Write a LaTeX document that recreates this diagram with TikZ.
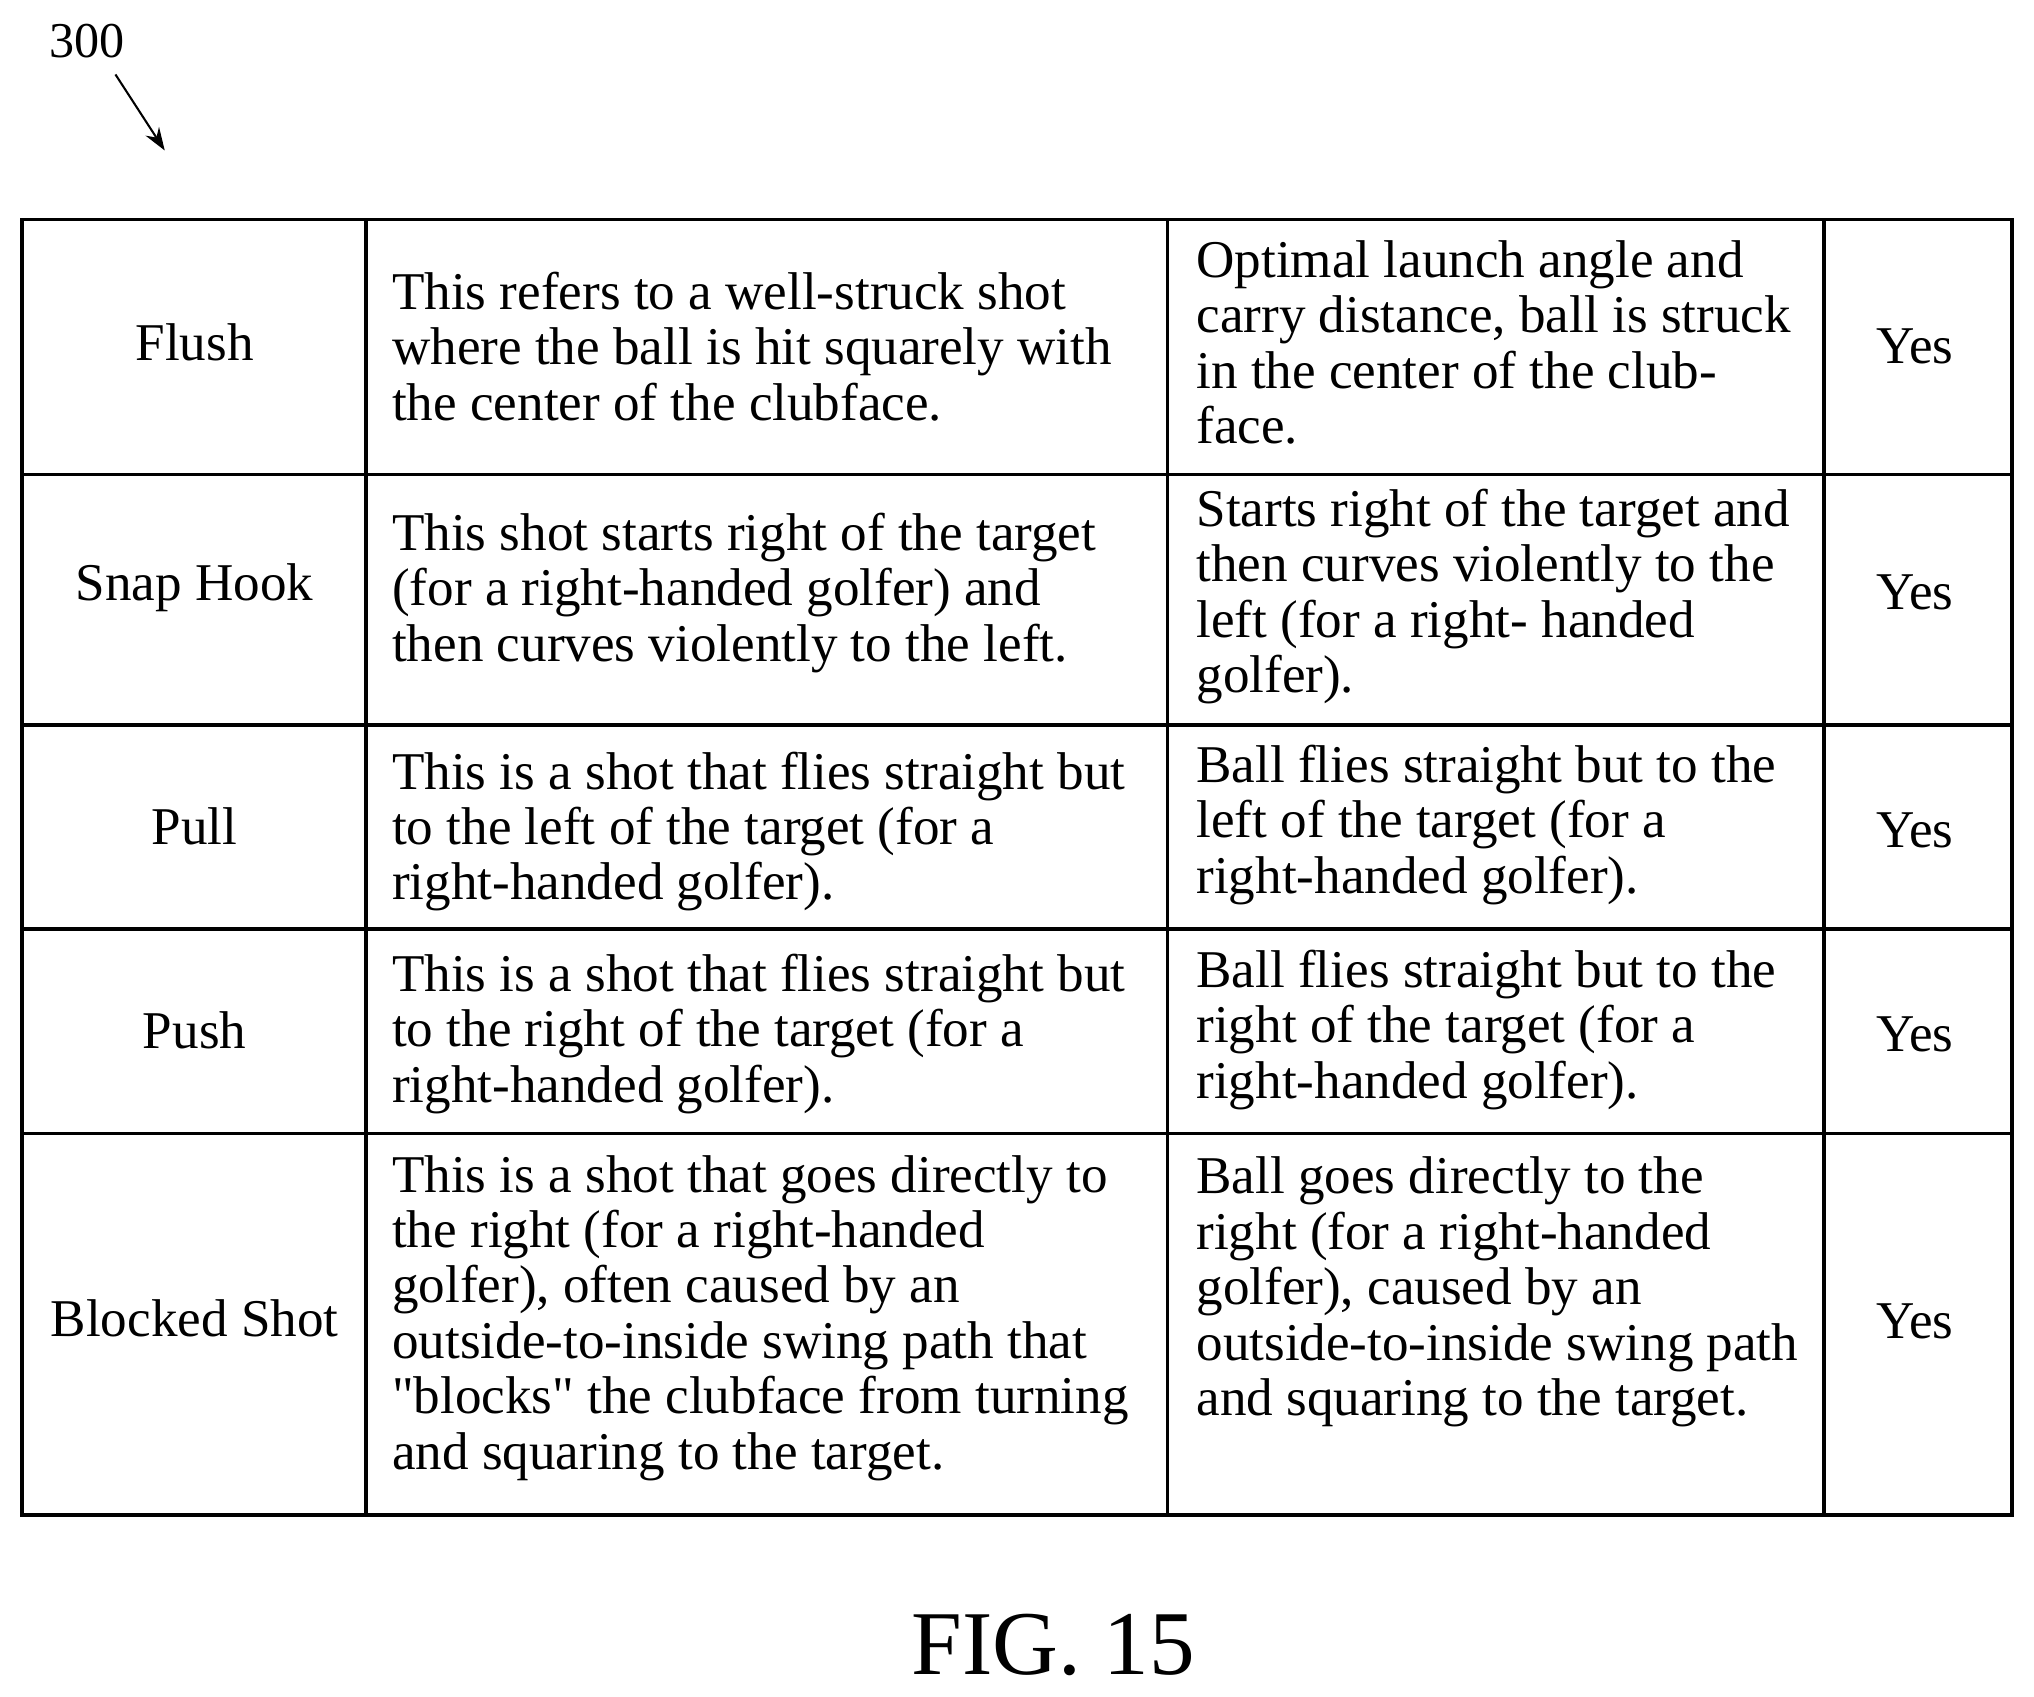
\documentclass[tikz,border=0pt]{standalone}
\usepackage{fontspec}
\setmainfont{Liberation Serif}
\newfontfamily\quotefont{Liberation Serif}
\usetikzlibrary{arrows.meta, positioning}

\begin{document}
\begin{tikzpicture}[
    x=0.02cm, y=-0.02cm,
    every node/.style={font=\fontsize{23.3}{24.3}\selectfont, inner sep=0pt},
    namecell/.style={align=center, anchor=center},
    desccell/.style={align=left, anchor=west},
    gridline/.style={line width=1.5pt, black}
]
    \useasboundingbox (0,0) rectangle (1568,1308);

    % Reference label and arrow
    \node[font=\fontsize{22}{26}\selectfont] (ref) at (67,32) {300};
    \coordinate (reftip) at (127,116);
    \draw[-{Stealth[length=10pt,width=7pt]}, line width=0.9pt] (ref.south)++(22,12) -- (reftip);

    % Table grid
    \draw[gridline] (17,169) rectangle (1551,1168);
    \foreach \cx in {282,900,1406} \draw[gridline] (\cx,169) -- (\cx,1168);
    \foreach \ry in {366,559,716,874} \draw[gridline] (17,\ry) -- (1551,\ry);

    % Row 1
    \node[namecell] (n1) at (150,264) {Flush};
    \node[desccell] (d1) at (302,267) {This refers to a well-struck shot\\where the ball is hit squarely with\\the center of the clubface.};
    \node[desccell] (e1) at (922,264) {Optimal launch angle and\\carry distance, ball is struck\\in the center of the club-\\face.};
    \node[namecell] (y1) at (1476,267) {Yes};

    % Row 2
    \node[namecell] (n2) at (150,453) {Snap Hook};
    \node[desccell] (d2) at (302,457) {This shot starts right of the target\\(for a right-handed golfer) and\\then curves violently to the left.};
    \node[desccell] (e2) at (922,460) {Starts right of the target and\\then curves violently to the\\left (for a right- handed\\golfer).};
    \node[namecell] (y2) at (1476,457) {Yes};

    % Row 3
    \node[namecell] (n3) at (150,637) {Pull};
    \node[desccell] (d3) at (302,641) {This is a shot that flies straight but\\to the left of the target (for a\\right-handed golfer).};
    \node[desccell] (e3) at (922,636) {Ball flies straight but to the\\left of the target (for a\\right-handed golfer).};
    \node[namecell] (y3) at (1476,640) {Yes};

    % Row 4
    \node[namecell] (n4) at (150,794) {Push};
    \node[desccell] (d4) at (302,797) {This is a shot that flies straight but\\to the right of the target (for a\\right-handed golfer).};
    \node[desccell] (e4) at (922,794) {Ball flies straight but to the\\right of the target (for a\\right-handed golfer).};
    \node[namecell] (y4) at (1476,797) {Yes};

    % Row 5
    \node[namecell] (n5) at (150,1016) {Blocked Shot};
    \node[desccell] (d5) at (302,1016) {This is a shot that goes directly to\\the right (for a right-handed\\golfer), often caused by an\\outside-to-inside swing path that\\{\quotefont"}blocks{\quotefont"} the clubface from turning\\and squaring to the target.};
    \node[desccell] (e5) at (922,996) {Ball goes directly to the\\right (for a right-handed\\golfer), caused by an\\outside-to-inside swing path\\and squaring to the target.};
    \node[namecell] (y5) at (1476,1019) {Yes};

    % Caption
    \node[font=\fontsize{40}{46}\selectfont] (fig) at (812,1268) {FIG. 15};
\end{tikzpicture}
\end{document}
